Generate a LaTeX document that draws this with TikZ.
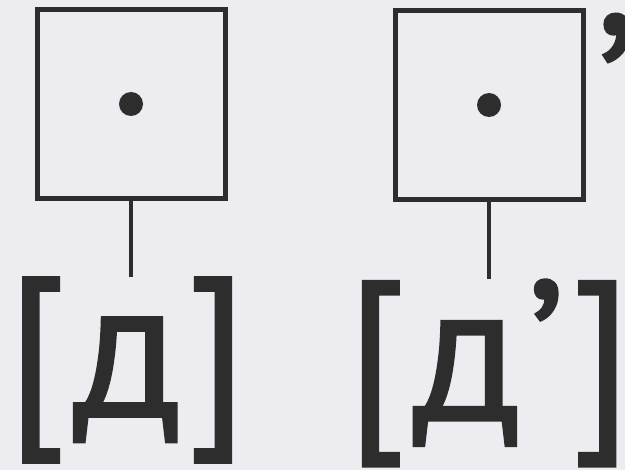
\documentclass[tikz,border=0pt]{standalone}
\usepackage{fontspec}
\setmainfont{PT Sans}
\definecolor{ink}{RGB}{45,45,45}
\definecolor{paper}{RGB}{237,236,240}
\newcommand{\soundfont}{\fontsize{100}{100}\selectfont\addfontfeatures{FakeBold=0.9,LetterSpace=3}}

\tikzset{
  cell/.style={draw=ink, line width=2.5pt, minimum size=94pt, inner sep=0pt},
  dot/.style={circle, fill=ink, minimum size=12pt, inner sep=0pt},
  link/.style={draw=ink, line width=2pt},
  sound/.style={text=ink, inner sep=0pt, font=\soundfont},
}

\begin{document}
\begin{tikzpicture}[x=0.5pt,y=-0.5pt]
\useasboundingbox[fill=paper] (0,0) rectangle (625,470);
% cells with the dot
\node[cell] (cellA) at (131,104) {};
\node[cell] (cellB) at (489,105) {};
\node[dot] (dotA) at (cellA.center) {};
\node[dot] (dotB) at (cellB.center) {};
% transcriptions
\node[sound] (labA) at (127,370) {[д]};
\node[sound] (labB) at (489,373) {[д’]};
\node[sound, anchor=north] (commaC) at (617,13) {,};
\draw[link] (cellA.south) -- (cellA.south |- labA.north);
\draw[link] (cellB.south) -- (cellB.south |- labB.north);
\end{tikzpicture}
\end{document}
